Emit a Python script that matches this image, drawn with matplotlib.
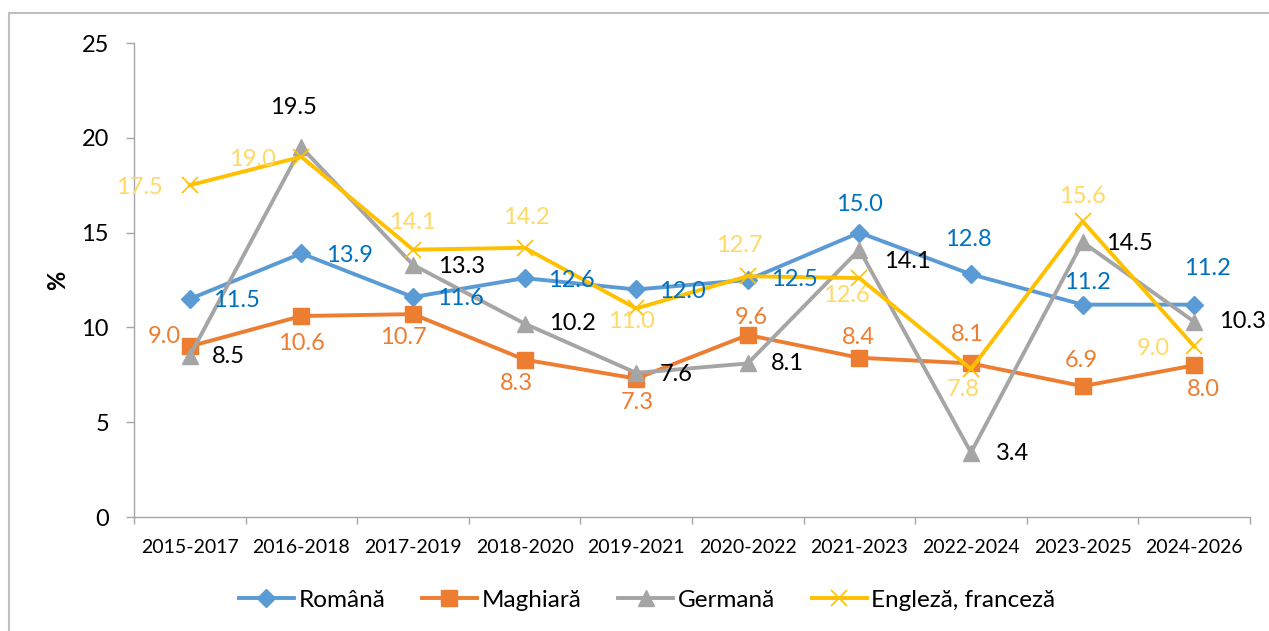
import matplotlib.pyplot as plt
from matplotlib.patches import Rectangle

plt.rcParams['font.family'] = ['Lato', 'DejaVu Sans']

PERIODS = ["2015-2017", "2016-2018", "2017-2019", "2018-2020", "2019-2021",
           "2020-2022", "2021-2023", "2022-2024", "2023-2025", "2024-2026"]

ROMANA = [11.5, 13.9, 11.6, 12.6, 12.0, 12.5, 15.0, 12.8, 11.2, 11.2]
MAGHIARA = [9.0, 10.6, 10.7, 8.3, 7.3, 9.6, 8.4, 8.1, 6.9, 8.0]
GERMANA = [8.5, 19.5, 13.3, 10.2, 7.6, 8.1, 14.1, 3.4, 14.5, 10.3]
ENGLEZA = [17.5, 19.0, 14.1, 14.2, 11.0, 12.7, 12.6, 7.8, 15.6, 9.0]

# label offsets (pixels, label centre relative to point, +dy = down)
OFF_RO = [(47, 2), (48, 2), (47, 1), (47, 2), (46, 2), (47, 0), (0, -28), (-3, -35), (5, -22), (13, -36)]
OFF_MA = [(-25, -10), (0, 27), (-10, 23), (-8, 24), (1, 24), (4, -17), (-1, -20), (-4, -29), (-1, -26), (9, 24)]
OFF_GE = [(39, 1), (-8, -40), (49, 2), (48, 0), (40, 2), (40, 0), (48, 12), (41, 1), (47, 1), (48, 0)]
OFF_EN = [(-50, 2), (-49, 3), (-1, -27), (2, -30), (-5, 13), (-8, -31), (-13, 17), (-8, 20), (0, -25), (-41, 2)]

SERIES = [
    ("Română", ROMANA, "#5B9BD5", "D", 9, "#0070C0", OFF_RO),
    ("Maghiară", MAGHIARA, "#ED7D31", "s", 11, "#ED7D31", OFF_MA),
    ("Germană", GERMANA, "#A5A5A5", "^", 12, "#000000", OFF_GE),
    ("Engleză, franceză", ENGLEZA, "#FFC000", "x", 11, "#FFD966", OFF_EN),
]

fig = plt.figure(figsize=(12.69, 6.31), dpi=100)
ax = fig.add_axes([134 / 1269, 1 - 517 / 631, 1116 / 1269, 474 / 631])

# outer chart border
fig.patches.append(Rectangle((9 / 1269, -0.1), 1.2, 1 - 13 / 631 + 0.1,
                             transform=fig.transFigure, fill=False,
                             edgecolor="#BFBFBF", lw=1.5))

x = list(range(len(PERIODS)))
for name, vals, color, marker, ms, lcolor, offs in SERIES:
    if marker == "x":
        ax.plot(x, vals, color=color, lw=2.8, marker=marker, ms=ms, mew=1.2,
                label=name, zorder=3)
    else:
        ax.plot(x, vals, color=color, lw=2.8, marker=marker, ms=ms,
                label=name, zorder=3)
    for xi, v, (dx, dy) in zip(x, vals, offs):
        ax.annotate(f"{v:.1f}", (xi, v), xytext=(dx, -dy), textcoords="offset pixels",
                    ha="center", va="center", fontsize=17, color=lcolor, zorder=4)

ax.set_xlim(-0.5, len(PERIODS) - 0.5)
ax.set_ylim(0, 25)
ax.set_yticks([0, 5, 10, 15, 20, 25])
ax.set_xticks(x)
ax.set_xticklabels(PERIODS, fontsize=14)
ax.set_xticks([i - 0.5 for i in range(len(PERIODS) + 1)], minor=True)
ax.tick_params(axis="x", which="major", length=0, pad=16)
ax.tick_params(axis="x", which="minor", length=5, color="#A6A6A6", width=1)
ax.tick_params(axis="y", length=6, color="#A6A6A6", width=1, pad=12, labelsize=17)

for s in ["top", "right"]:
    ax.spines[s].set_visible(False)
for s in ["left", "bottom"]:
    ax.spines[s].set_color("#A6A6A6")
    ax.spines[s].set_linewidth(1)

ax.set_ylabel("%", fontsize=17, fontweight="bold")
ax.yaxis.set_label_coords(-0.058, 0.5)

fig.legend(loc="center", bbox_to_anchor=(0.51, 1 - 600 / 631), ncol=4, frameon=False,
           fontsize=17.5, handlelength=2.26, handletextpad=0.2, columnspacing=1.5)

fig.savefig("out.png", dpi=100)
